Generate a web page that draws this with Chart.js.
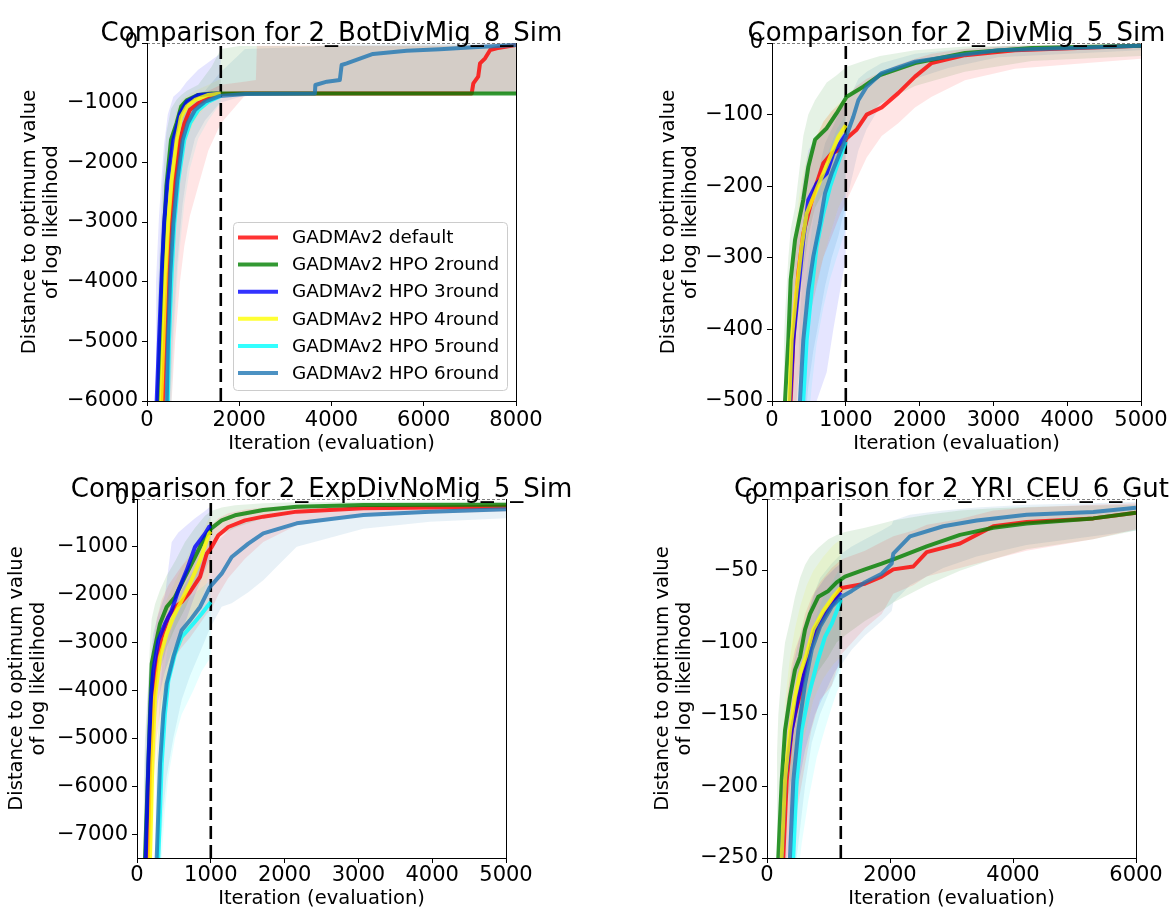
<!DOCTYPE html>
<html>
<head>
<meta charset="utf-8">
<title>GADMA convergence comparison</title>
<script src="https://cdn.jsdelivr.net/npm/chart.js@4.4.1/dist/chart.umd.min.js"></script>
<style>
  html, body { margin: 0; padding: 0; background: #fff; }
  #page { position: relative; width: 1176px; height: 910px; overflow: hidden; }
  .panel { position: absolute; width: 588px; height: 455px; }
  .panel canvas { display: block; }
</style>
</head>
<body>
<div id="page">
  <div class="panel" style="left:0;top:0"><canvas id="botDivMig" width="588" height="455"></canvas></div>
  <div class="panel" style="left:588px;top:0"><canvas id="divMig" width="588" height="455"></canvas></div>
  <div class="panel" style="left:0;top:455px"><canvas id="expDiv" width="588" height="455"></canvas></div>
  <div class="panel" style="left:588px;top:455px"><canvas id="yriCeu" width="588" height="455"></canvas></div>
</div>
<script>
// run names, shared by all four panels
const runLabels = ['GADMAv2 default', 'GADMAv2 HPO 2round', 'GADMAv2 HPO 3round',
                   'GADMAv2 HPO 4round', 'GADMAv2 HPO 5round', 'GADMAv2 HPO 6round'];
const runColors = [[255, 0, 0], [0, 128, 0], [0, 0, 255], [255, 255, 0], [0, 255, 255], [31, 119, 180]];

// ---- 2_BotDivMig_8_Sim ----
const bdXRange = [0, 8000];
const bdYRange = [-6000, 0];
const bdXTicks = [0, 2000, 4000, 6000, 8000];
const bdYTicks = [-6000, -5000, -4000, -3000, -2000, -1000, 0];
const bdCutoff = 1600;
const bdDefaultIt   = [330, 390, 450, 535, 610, 715, 810, 930, 1110, 1330, 1600, 2100, 2360, 2380, 7040, 7075, 7180, 7220, 7330, 7440, 7580, 8000];
const bdDefaultMean = [-6300, -5000, -4080, -3020, -2300, -1625, -1350, -1120, -1010, -930, -855, -845, -845, -845, -845, -676, -564, -341, -257, -117, -89, -34];
const bdDefaultLo   = [-8500, -7800, -7000, -6000, -5000, -4000, -3400, -2900, -2400, -1800, -1350, -900, -860, -860, -850, -850, -845, -845, -845, -845, -845, -845];
const bdDefaultHi   = [-4500, -3500, -2800, -2100, -1600, -1200, -1000, -900, -850, -800, -700, -650, -620, -45, -40, -35, -30, -25, -20, -15, -10, -5];
const bdR2It   = [220, 300, 340, 420, 520, 640, 740, 860, 1110, 1400, 1600, 2000, 8000];
const bdR2Mean = [-6300, -4600, -3600, -2400, -1625, -1346, -1067, -960, -870, -845, -845, -845, -845];
const bdR2Lo   = [-9000, -7500, -6000, -4200, -3000, -2300, -1800, -1400, -1100, -900, -860, -845, -845];
const bdR2Hi   = [-4500, -3000, -2300, -1500, -1100, -950, -870, -800, -700, -400, -100, -50, -40];
const bdR3It   = [195, 260, 320, 370, 450, 570, 715, 860, 1110, 1600];
const bdR3Mean = [-6300, -4980, -3860, -3020, -2300, -1625, -1180, -985, -870, -845];
const bdR3Lo   = [-9000, -7500, -6000, -4800, -3800, -2800, -2000, -1500, -1100, -870];
const bdR3Hi   = [-4000, -2900, -2200, -1700, -1200, -900, -800, -650, -450, -170];
const bdR4It   = [295, 354, 405, 462, 535, 643, 737, 860, 1040, 1330, 1600];
const bdR4Mean = [-6300, -4980, -3860, -3020, -2300, -1625, -1235, -1067, -955, -871, -845];
const bdR4Lo   = [-9000, -7500, -6000, -4800, -3800, -2700, -2000, -1600, -1300, -1000, -870];
const bdR4Hi   = [-4300, -3300, -2600, -2000, -1500, -1100, -950, -880, -800, -700, -600];
const bdR5It   = [445, 477, 535, 593, 679, 809, 932, 1113, 1330, 1600];
const bdR5Mean = [-6300, -4980, -3860, -3020, -2300, -1625, -1346, -1123, -983, -888];
const bdR5Lo   = [-9000, -7500, -6000, -4800, -3700, -2700, -2100, -1600, -1300, -1000];
const bdR5Hi   = [-4500, -3500, -2800, -2200, -1600, -1150, -1000, -900, -860, -845];
const bdR6It   = [420, 455, 505, 571, 657, 773, 882, 1040, 1257, 1583, 2125, 3640, 3650, 3900, 4180, 4220, 4330, 4900, 5630, 6350, 7075, 8000];
const bdR6Mean = [-6300, -4980, -3860, -3020, -2300, -1625, -1346, -1123, -983, -888, -855, -845, -704, -648, -620, -369, -341, -184, -129, -106, -72, -34];
const bdR6Lo   = [-9000, -7500, -6000, -4800, -3700, -2700, -2100, -1600, -1300, -1000, -880, -850, -845, -845, -845, -845, -845, -845, -845, -845, -845, -845];
const bdR6Hi   = [-4500, -3500, -2800, -2100, -1500, -1100, -950, -880, -800, -500, -100, -60, -50, -45, -40, -35, -30, -25, -20, -15, -10, -5];

// ---- 2_DivMig_5_Sim ----
const dmXRange = [0, 5000];
const dmYRange = [-500, 0];
const dmXTicks = [0, 1000, 2000, 3000, 4000, 5000];
const dmYTicks = [-500, -400, -300, -200, -100, 0];
const dmCutoff = 1000;
const dmDefaultIt   = [230, 253, 289, 356, 424, 515, 605, 695, 809, 921, 1012, 1147, 1283, 1486, 1711, 1938, 2164, 2615, 3293, 5000];
const dmDefaultMean = [-540, -500, -415, -322, -266, -229, -196, -168, -154, -149, -133, -121, -100, -90, -70, -47, -28, -17, -10, -4];
const dmDefaultLo   = [-700, -650, -560, -470, -420, -380, -340, -300, -270, -240, -220, -190, -160, -130, -112, -90, -75, -52, -36, -22];
const dmDefaultHi   = [-420, -390, -320, -250, -200, -160, -130, -110, -95, -85, -75, -60, -50, -40, -30, -22, -15, -8, -4, -1];
const dmR2It   = [160, 176, 221, 253, 312, 424, 492, 583, 741, 876, 1012, 1237, 1463, 1938, 2615, 3519, 5000];
const dmR2Mean = [-540, -500, -415, -331, -275, -219, -173, -135, -119, -98, -75, -61, -45, -28, -14, -7, -4];
const dmR2Lo   = [-700, -650, -560, -480, -400, -320, -270, -230, -200, -170, -140, -110, -85, -60, -40, -25, -18];
const dmR2Hi   = [-420, -380, -300, -260, -229, -130, -100, -80, -55, -45, -33, -25, -18, -10, -5, -3, -2];
const dmR3It   = [220, 244, 289, 356, 424, 492, 605, 741, 831, 1000];
const dmR3Mean = [-540, -500, -415, -345, -275, -219, -196, -182, -154, -128];
const dmR3Lo   = [-700, -680, -620, -570, -540, -520, -500, -460, -400, -300];
const dmR3Hi   = [-400, -370, -300, -240, -190, -150, -130, -115, -100, -85];
const dmR4It   = [215, 235, 266, 334, 402, 470, 560, 695, 809, 899, 1000];
const dmR4Mean = [-540, -500, -415, -345, -284, -238, -215, -182, -154, -131, -115];
const dmR4Lo   = [-700, -680, -600, -520, -460, -400, -350, -300, -260, -230, -210];
const dmR4Hi   = [-400, -370, -300, -240, -190, -160, -140, -110, -95, -85, -75];
const dmR5It   = [400, 424, 470, 538, 605, 695, 786, 876, 1000];
const dmR5Mean = [-540, -500, -415, -345, -284, -238, -201, -173, -138];
const dmR5Lo   = [-650, -620, -560, -480, -420, -370, -330, -300, -260];
const dmR5Hi   = [-420, -380, -320, -260, -210, -170, -145, -120, -100];
const dmR6It   = [360, 379, 424, 492, 560, 650, 718, 809, 899, 989, 1102, 1170, 1283, 1486, 1938, 2389, 3067, 5000];
const dmR6Mean = [-540, -500, -415, -345, -298, -252, -210, -182, -159, -135, -103, -80, -61, -42, -26, -19, -10, -4];
const dmR6Lo   = [-650, -620, -560, -480, -430, -380, -340, -300, -270, -230, -180, -150, -120, -85, -50, -35, -20, -10];
const dmR6Hi   = [-420, -380, -310, -250, -210, -170, -140, -120, -100, -85, -65, -50, -40, -28, -15, -10, -5, -2];

// ---- 2_ExpDivNoMig_5_Sim ----
const edXRange = [0, 5000];
const edYRange = [-7500, 0];
const edXTicks = [0, 1000, 2000, 3000, 4000, 5000];
const edYTicks = [-7000, -6000, -5000, -4000, -3000, -2000, -1000, 0];
const edCutoff = 1000;
const edDefaultIt   = [130, 145, 176, 221, 267, 335, 425, 515, 605, 718, 854, 944, 1012, 1102, 1237, 1463, 1711, 2164, 3067, 5000];
const edDefaultMean = [-8500, -7500, -5530, -4136, -3441, -2883, -2465, -2256, -2152, -1943, -1629, -1143, -1003, -759, -585, -446, -369, -264, -195, -160];
const edDefaultLo   = [-9500, -9000, -7500, -6000, -5000, -4200, -3600, -3300, -3100, -2900, -2600, -2400, -2300, -2000, -1650, -1250, -900, -550, -350, -260];
const edDefaultHi   = [-6500, -5500, -4000, -3000, -2500, -2100, -1800, -1600, -1400, -1200, -900, -650, -550, -400, -300, -220, -180, -130, -100, -80];
const edR2It   = [90, 108, 154, 176, 199, 244, 312, 402, 515, 650, 786, 921, 1003, 1147, 1328, 1711, 2164, 3067, 5000];
const edR2Mean = [-8500, -7500, -5530, -4485, -3441, -3092, -2605, -2256, -2047, -1629, -1212, -794, -620, -446, -341, -230, -160, -125, -120];
const edR2Lo   = [-9500, -9000, -7200, -6000, -5000, -4300, -3600, -3100, -2700, -2300, -1800, -1300, -1000, -750, -600, -400, -280, -200, -180];
const edR2Hi   = [-6000, -5000, -3800, -3000, -2500, -2200, -1900, -1600, -1300, -900, -600, -350, -250, -180, -130, -90, -70, -60, -55];
const edR3It   = [100, 118, 154, 190, 221, 289, 379, 470, 560, 673, 786, 921, 976, 1000];
const edR3Mean = [-8500, -7500, -5530, -4136, -3580, -2953, -2605, -2326, -1908, -1490, -1003, -725, -585, -560];
const edR3Lo   = [-9500, -9000, -7200, -6000, -5000, -4200, -3600, -3200, -2900, -2500, -2000, -1500, -1300, -1250];
const edR3Hi   = [-6000, -5000, -3800, -3200, -2800, -2400, -2000, -900, -700, -550, -400, -250, -180, -160];
const edR4It   = [160, 176, 208, 244, 312, 402, 492, 583, 718, 854, 976, 1000];
const edR4Mean = [-8500, -7500, -5530, -4136, -3300, -2814, -2465, -2187, -1769, -1281, -725, -680];
const edR4Lo   = [-9500, -9000, -7500, -6000, -4800, -4000, -3500, -3100, -2700, -2200, -1600, -1500];
const edR4Hi   = [-6500, -5500, -4000, -3000, -2500, -2100, -1800, -1500, -1100, -750, -400, -380];
const edR5It   = [270, 289, 335, 379, 425, 515, 605, 763, 876, 1000];
const edR5Mean = [-8500, -7500, -5530, -4485, -3790, -3232, -2883, -2605, -2396, -2150];
const edR5Lo   = [-9500, -9000, -7500, -6500, -5800, -5000, -4500, -4000, -3600, -3300];
const edR5Hi   = [-6500, -5800, -4300, -3500, -3000, -2500, -2200, -2000, -1850, -1700];
const edR6It   = [250, 267, 312, 357, 402, 492, 605, 718, 854, 989, 1147, 1283, 1508, 1711, 2164, 3067, 3970, 5000];
const edR6Mean = [-8500, -7500, -5530, -4485, -3858, -3300, -2744, -2535, -2256, -1838, -1560, -1212, -933, -717, -508, -334, -265, -216];
const edR6Lo   = [-9500, -9000, -7500, -6500, -5800, -5000, -4200, -3700, -3200, -2700, -2250, -2180, -1950, -1700, -1000, -620, -474, -403];
const edR6Hi   = [-6500, -5500, -4000, -3200, -2800, -2300, -1900, -1600, -1300, -1000, -800, -600, -450, -350, -250, -180, -150, -120];

// ---- 2_YRI_CEU_6_Gut ----
const ycXRange = [0, 6000];
const ycYRange = [-250, 0];
const ycXTicks = [0, 2000, 4000, 6000];
const ycYTicks = [-250, -200, -150, -100, -50, 0];
const ycCutoff = 1200;
const ycDefaultIt   = [240, 266, 320, 401, 455, 537, 618, 727, 862, 1052, 1214, 1593, 1865, 2054, 2379, 2597, 3138, 3680, 4222, 5306, 6000];
const ycDefaultMean = [-275, -249, -196, -161, -150, -136, -119, -101, -87, -73, -62, -59, -54, -49, -47, -37, -31, -19, -16, -13.5, -9.5];
const ycDefaultLo   = [-330, -310, -270, -240, -225, -205, -185, -160, -140, -130, -108, -90, -80, -66, -60, -54, -48, -42, -36, -28, -21];
const ycDefaultHi   = [-200, -180, -140, -115, -105, -95, -80, -68, -58, -48, -42, -36, -30, -26, -22, -18, -14, -8, -6, -4, -3];
const ycR2It   = [160, 184, 239, 293, 374, 455, 537, 618, 699, 835, 997, 1133, 1268, 1593, 1865, 2054, 2597, 3138, 3680, 4222, 5306, 6000];
const ycR2Mean = [-275, -249, -196, -161, -138, -119, -110, -91, -80, -68, -64, -58, -54, -49, -45, -42, -33, -25, -20, -17, -13.5, -9.5];
const ycR2Lo   = [-330, -310, -260, -220, -200, -180, -165, -150, -135, -120, -110, -100, -95, -85, -78, -72, -60, -50, -42, -35, -28, -22];
const ycR2Hi   = [-180, -150, -120, -100, -85, -68, -55, -46, -40, -34, -28, -25, -23, -20, -17, -15, -11, -8, -6.5, -5.5, -4.5, -4];
const ycR3It   = [215, 239, 293, 401, 509, 618, 780, 943, 1106, 1200];
const ycR3Mean = [-275, -249, -196, -161, -138, -119, -91, -80, -71, -65];
const ycR3Lo   = [-330, -310, -260, -230, -200, -175, -150, -135, -120, -115];
const ycR3Hi   = [-210, -190, -150, -120, -100, -85, -65, -55, -48, -45];
const ycR4It   = [215, 239, 293, 374, 455, 537, 645, 753, 916, 1079, 1200];
const ycR4Mean = [-275, -249, -196, -161, -138, -122, -108, -91, -78, -68, -62];
const ycR4Lo   = [-330, -310, -260, -220, -195, -175, -160, -140, -125, -115, -110];
const ycR4Hi   = [-200, -180, -140, -110, -90, -75, -60, -50, -40, -32, -28];
const ycR5It   = [400, 428, 483, 564, 672, 808, 943, 1052, 1133, 1200];
const ycR5Mean = [-275, -249, -196, -161, -138, -115, -96, -87, -78, -70];
const ycR5Lo   = [-330, -310, -270, -240, -210, -180, -160, -145, -135, -128];
const ycR5Hi   = [-220, -200, -150, -120, -100, -80, -65, -58, -52, -48];
const ycR6It   = [350, 374, 428, 509, 618, 727, 862, 1052, 1214, 1377, 1593, 1865, 2027, 2054, 2325, 2867, 3410, 4222, 5306, 6000];
const ycR6Mean = [-275, -249, -196, -161, -129, -105, -89, -75, -68, -64, -58, -52, -45, -38, -26, -19, -15, -11, -9, -6];
const ycR6Lo   = [-330, -310, -270, -240, -200, -170, -150, -130, -115, -105, -95, -85, -78, -72, -60, -48, -40, -32, -26, -22];
const ycR6Hi   = [-210, -190, -150, -115, -90, -70, -55, -45, -38, -33, -28, -22, -18, -15, -11, -8, -6, -4, -3, -2];

Chart.defaults.font.family = '"DejaVu Sans", "Liberation Sans", sans-serif';
Chart.defaults.color = '#000';

const rgba = (c, a) => `rgba(${c[0]},${c[1]},${c[2]},${a})`;
const toPoints = (xs, ys) => xs.map((x, i) => ({ x: x, y: ys[i] }));
const minusSign = v => (v < 0 ? '\u2212' + (-v) : String(v));

// right spine, panel title and (optionally) the legend box
const panelDecor = {
  id: 'panelDecor',
  afterDraw(chart, args, opts) {
    const { ctx, chartArea: a } = chart;
    ctx.save();
    ctx.strokeStyle = '#000';
    ctx.lineWidth = 1;
    ctx.beginPath();
    ctx.moveTo(a.right + 0.5, a.top);
    ctx.lineTo(a.right + 0.5, a.bottom + 0.5);
    ctx.stroke();

    ctx.fillStyle = '#000';
    ctx.font = '26px "DejaVu Sans"';
    ctx.textAlign = 'center';
    ctx.textBaseline = 'alphabetic';
    ctx.fillText(opts.text, (a.left + a.right) / 2, a.top - 2);

    if (opts.legend) {
      const runs = chart.data.datasets.filter(d => d.isRun);
      const w = 274, h = 168;
      const x0 = a.right - 9 - w, y0 = a.bottom - 11 - h;
      ctx.beginPath();
      ctx.roundRect(x0 + 0.5, y0 + 0.5, w, h, 4);
      ctx.fillStyle = 'rgba(255,255,255,0.8)';
      ctx.fill();
      ctx.strokeStyle = '#cccccc';
      ctx.stroke();
      ctx.font = '18.4px "DejaVu Sans"';
      ctx.textAlign = 'left';
      ctx.textBaseline = 'middle';
      runs.forEach((d, i) => {
        const y = y0 + 15.5 + i * 27.1;
        ctx.strokeStyle = d.borderColor;
        ctx.lineWidth = 4;
        ctx.beginPath();
        ctx.moveTo(x0 + 5, y);
        ctx.lineTo(x0 + 45, y);
        ctx.stroke();
        ctx.fillStyle = '#000';
        ctx.fillText(d.label, x0 + 59, y + 1);
      });
    }
    ctx.restore();
  }
};

function makePanel(id, title, runs, xRange, yRange, xTicks, yTicks, cutoff, box, legend) {
  const datasets = [];
  // shaded spread of each run family, under everything else
  runs.forEach((r, i) => {
    datasets.push({ data: toPoints(r[0], r[3]), fill: '+1', backgroundColor: rgba(runColors[i], 0.1),
                    borderWidth: 0, pointRadius: 0, order: 20 });
    datasets.push({ data: toPoints(r[0], r[2]), fill: false, borderWidth: 0, pointRadius: 0, order: 20 });
  });
  // budget cut-off and the optimum
  datasets.push({ data: [{ x: cutoff, y: yRange[0] }, { x: cutoff, y: yRange[1] }], borderColor: '#000',
                  borderWidth: 2.6, borderDash: [13, 6], pointRadius: 0, fill: false, order: 10 });
  datasets.push({ data: [{ x: xRange[0], y: 0 }, { x: xRange[1], y: 0 }], borderColor: '#000',
                  borderWidth: 1, borderDash: [3, 2], pointRadius: 0, fill: false, order: 10 });
  // mean curves, later runs on top
  runs.forEach((r, i) => {
    datasets.push({ label: runLabels[i], isRun: true, data: toPoints(r[0], r[1]), borderColor: rgba(runColors[i], 0.8),
                    borderWidth: 4, borderJoinStyle: 'round', pointRadius: 0, fill: false, order: 6 - i });
  });

  const tickFont = { size: 21 };
  const labelFont = { size: 19.5, lineHeight: 1.13 };
  return new Chart(document.getElementById(id), {
    type: 'line',
    data: { datasets },
    plugins: [panelDecor],
    options: {
      responsive: false,
      animation: false,
      events: [],
      layout: { padding: { left: 0, top: box.top, right: box.right, bottom: 0 } },
      plugins: {
        legend: { display: false },
        tooltip: { enabled: false },
        panelDecor: { text: title, legend: legend }
      },
      scales: {
        x: {
          type: 'linear', min: xRange[0], max: xRange[1],
          afterBuildTicks: s => { s.ticks = xTicks.map(v => ({ value: v })); },
          afterFit: s => { s.height = box.xHeight; },
          ticks: { font: tickFont, color: '#000', padding: box.xTickPad, maxRotation: 0, autoSkip: false, callback: minusSign },
          grid: { drawOnChartArea: false, tickLength: 5, tickColor: '#000' },
          border: { color: '#000', width: 1 },
          title: { display: true, text: 'Iteration (evaluation)', font: labelFont, color: '#000',
                   padding: { top: 0, bottom: box.xTitlePad } }
        },
        y: {
          type: 'linear', min: yRange[0], max: yRange[1],
          afterBuildTicks: s => { s.ticks = yTicks.map(v => ({ value: v })); },
          afterFit: s => { s.width = box.yWidth; },
          ticks: { font: tickFont, color: '#000', padding: 4, autoSkip: false, callback: minusSign },
          grid: { drawOnChartArea: false, tickLength: 5, tickColor: '#000' },
          border: { color: '#000', width: 1 },
          title: { display: true, text: ['Distance to optimum value', 'of log likelihood'], font: labelFont,
                   color: '#000', padding: { top: box.yTitlePad, bottom: 0 } }
        }
      }
    }
  });
}

makePanel('botDivMig', 'Comparison for 2_BotDivMig_8_Sim',
  [[bdDefaultIt, bdDefaultMean, bdDefaultLo, bdDefaultHi], [bdR2It, bdR2Mean, bdR2Lo, bdR2Hi],
   [bdR3It, bdR3Mean, bdR3Lo, bdR3Hi], [bdR4It, bdR4Mean, bdR4Lo, bdR4Hi],
   [bdR5It, bdR5Mean, bdR5Lo, bdR5Hi], [bdR6It, bdR6Mean, bdR6Lo, bdR6Hi]],
  bdXRange, bdYRange, bdXTicks, bdYTicks, bdCutoff,
  { top: 43, right: 72, yWidth: 147, xHeight: 54, xTickPad: 2, xTitlePad: 0, yTitlePad: 19 }, true);

makePanel('divMig', 'Comparison for 2_DivMig_5_Sim',
  [[dmDefaultIt, dmDefaultMean, dmDefaultLo, dmDefaultHi], [dmR2It, dmR2Mean, dmR2Lo, dmR2Hi],
   [dmR3It, dmR3Mean, dmR3Lo, dmR3Hi], [dmR4It, dmR4Mean, dmR4Lo, dmR4Hi],
   [dmR5It, dmR5Mean, dmR5Lo, dmR5Hi], [dmR6It, dmR6Mean, dmR6Lo, dmR6Hi]],
  dmXRange, dmYRange, dmXTicks, dmYTicks, dmCutoff,
  { top: 43, right: 35, yWidth: 184, xHeight: 54, xTickPad: 2, xTitlePad: 0, yTitlePad: 70 }, false);

makePanel('expDiv', 'Comparison for 2_ExpDivNoMig_5_Sim',
  [[edDefaultIt, edDefaultMean, edDefaultLo, edDefaultHi], [edR2It, edR2Mean, edR2Lo, edR2Hi],
   [edR3It, edR3Mean, edR3Lo, edR3Hi], [edR4It, edR4Mean, edR4Lo, edR4Hi],
   [edR5It, edR5Mean, edR5Lo, edR5Hi], [edR6It, edR6Mean, edR6Lo, edR6Hi]],
  edXRange, edYRange, edXTicks, edYTicks, edCutoff,
  { top: 44, right: 82, yWidth: 137, xHeight: 52, xTickPad: 0, xTitlePad: 0, yTitlePad: 6 }, false);

makePanel('yriCeu', 'Comparison for 2_YRI_CEU_6_Gut',
  [[ycDefaultIt, ycDefaultMean, ycDefaultLo, ycDefaultHi], [ycR2It, ycR2Mean, ycR2Lo, ycR2Hi],
   [ycR3It, ycR3Mean, ycR3Lo, ycR3Hi], [ycR4It, ycR4Mean, ycR4Lo, ycR4Hi],
   [ycR5It, ycR5Mean, ycR5Lo, ycR5Hi], [ycR6It, ycR6Mean, ycR6Lo, ycR6Hi]],
  ycXRange, ycYRange, ycXTicks, ycYTicks, ycCutoff,
  { top: 44, right: 40, yWidth: 179, xHeight: 52, xTickPad: 0, xTitlePad: 0, yTitlePad: 64 }, false);
</script>
</body>
</html>
